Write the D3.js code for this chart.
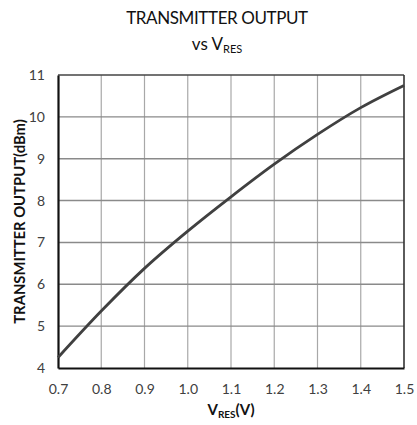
<!DOCTYPE html>
<html>
<head>
<meta charset="utf-8">
<script src="https://cdn.jsdelivr.net/npm/d3@7"></script>
<style>
  body { margin: 0; background: #fff; }
  svg text { font-family: Lato, "Open Sans", "DejaVu Sans", sans-serif; }
</style>
</head>
<body>
<svg id="chart"></svg>
<script>
// data
const vres = [0.7, 0.8, 0.9, 1.0, 1.1, 1.2, 1.3, 1.4, 1.5];
const output = [4.25, 5.36, 6.38, 7.27, 8.09, 8.87, 9.58, 10.22, 10.75];
const xTicks = [0.7, 0.8, 0.9, 1.0, 1.1, 1.2, 1.3, 1.4, 1.5];
const yTicks = [4, 5, 6, 7, 8, 9, 10, 11];

const W = 417, H = 425;
const margin = { left: 58, right: 13, top: 75, bottom: 57 };

const svg = d3.select('#chart').attr('width', W).attr('height', H);

const x = d3.scaleLinear().domain([0.7, 1.5]).range([margin.left, W - margin.right]);
const y = d3.scaleLinear().domain([4, 11]).range([H - margin.bottom, margin.top]);

// grid
svg.append('g').selectAll('line')
  .data(xTicks.slice(1, -1))
  .join('line')
  .attr('x1', d => x(d)).attr('x2', d => x(d))
  .attr('y1', y(11)).attr('y2', y(4))
  .attr('stroke', '#a8a8a8').attr('stroke-width', 1.2);

svg.append('g').selectAll('line')
  .data(yTicks.slice(1, -1))
  .join('line')
  .attr('x1', x(0.7)).attr('x2', x(1.5))
  .attr('y1', d => y(d)).attr('y2', d => y(d))
  .attr('stroke', '#8a8a8a').attr('stroke-width', 1.4);

// frame
svg.append('line').attr('x1', x(0.7)).attr('x2', x(1.5)).attr('y1', y(11)).attr('y2', y(11))
  .attr('stroke', '#444').attr('stroke-width', 1.5);
svg.append('line').attr('x1', x(1.5)).attr('x2', x(1.5)).attr('y1', y(11)).attr('y2', y(4))
  .attr('stroke', '#333').attr('stroke-width', 1.6);

// axes
const xAxis = svg.append('g')
  .attr('transform', `translate(0,${y(4)})`)
  .call(d3.axisBottom(x).tickValues(xTicks).tickFormat(d3.format('.1f')).tickSize(0).tickPadding(16));
const yAxis = svg.append('g')
  .attr('transform', `translate(${x(0.7)},0)`)
  .call(d3.axisLeft(y).tickValues(yTicks).tickFormat(d3.format('d')).tickSize(0).tickPadding(13));

[xAxis, yAxis].forEach(a => {
  a.select('.domain').attr('stroke', '#111').attr('stroke-width', 2.2);
  a.selectAll('text').attr('font-size', 14).attr('fill', '#404040')
    .style('font-family', 'Lato, "Open Sans", sans-serif');
});

// line
svg.append('path')
  .datum(vres.map((v, i) => [v, output[i]]))
  .attr('d', d3.line().x(d => x(d[0])).y(d => y(d[1])).curve(d3.curveMonotoneX))
  .attr('fill', 'none')
  .attr('stroke', '#404040')
  .attr('stroke-width', 2.8);

// titles
svg.append('text')
  .attr('x', 217).attr('y', 24)
  .attr('text-anchor', 'middle')
  .attr('font-size', 17).attr('fill', '#111')
  .style('letter-spacing', '-0.4px')
  .text('TRANSMITTER OUTPUT');

const t2 = svg.append('text')
  .attr('x', 217).attr('y', 50)
  .attr('text-anchor', 'middle')
  .attr('font-size', 17).attr('fill', '#111');
t2.append('tspan').text('vs V');
t2.append('tspan').attr('font-size', 11).attr('dy', 3).text('RES');

svg.append('text')
  .attr('transform', `translate(25,${(y(4) + y(11)) / 2}) rotate(-90)`)
  .attr('text-anchor', 'middle')
  .attr('font-size', 14.8).attr('font-weight', 'bold').attr('fill', '#111')
  .text('TRANSMITTER OUTPUT(dBm)');

const xt = svg.append('text')
  .attr('x', 231).attr('y', 415)
  .attr('text-anchor', 'middle')
  .attr('font-size', 15).attr('font-weight', 'bold').attr('fill', '#111');
xt.append('tspan').text('V');
xt.append('tspan').attr('font-size', 10).attr('dy', 3).text('RES');
xt.append('tspan').attr('dy', -3).text('(V)');
</script>
</body>
</html>
